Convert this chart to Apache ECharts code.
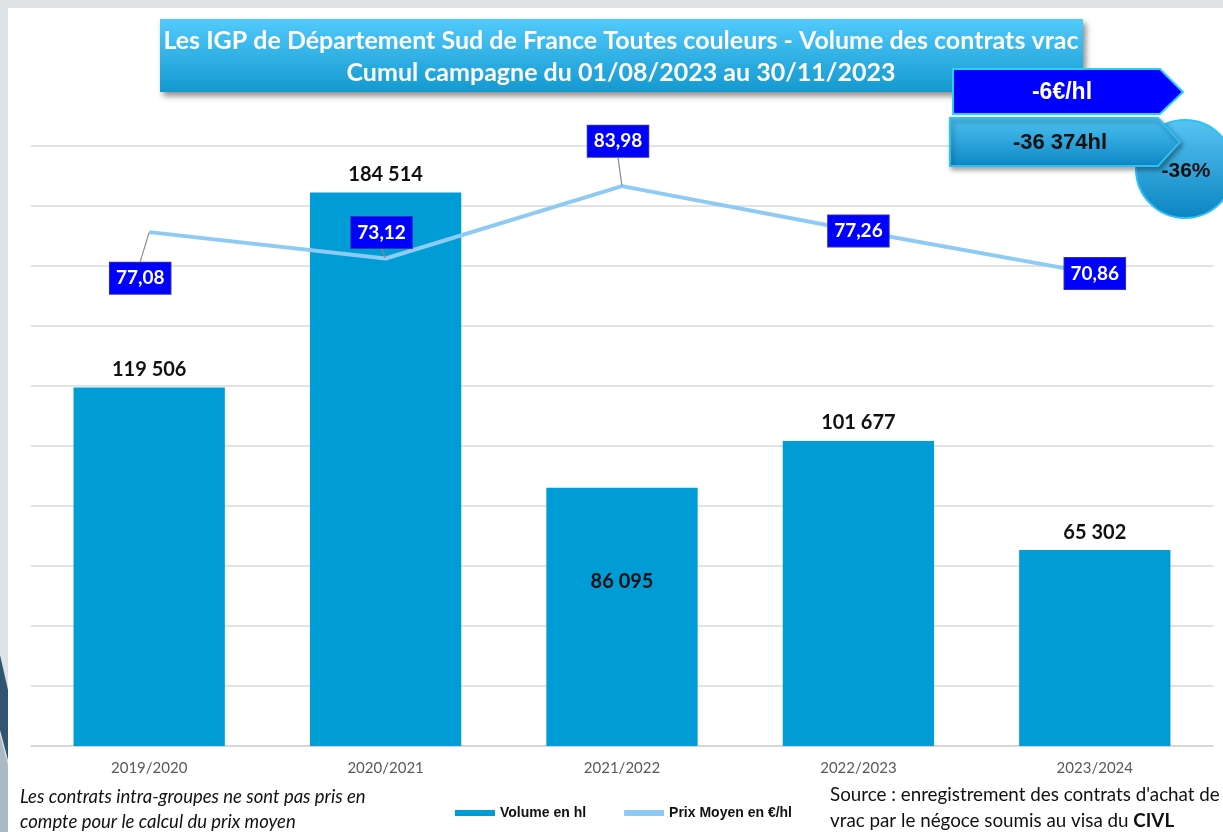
<!DOCTYPE html>
<html>
<head>
<meta charset="utf-8">
<script src="https://cdn.jsdelivr.net/npm/echarts@6/dist/echarts.min.js"></script>
<style>
  html, body { margin: 0; padding: 0; background: #dfe3e6; }
  #chart { width: 1223px; height: 832px; }
</style>
</head>
<body>
<div id="chart"></div>
<script>
// campagnes
const categories = ['2019/2020', '2020/2021', '2021/2022', '2022/2023', '2023/2024'];
// volume en hl
const volumes = [119506, 184514, 86095, 101677, 65302];
// prix moyen en €/hl
const prices = [77.08, 73.12, 83.98, 77.26, 70.86];
// décalage des étiquettes de prix (dx, dy)
const priceLabelShift = [[-9, 46], [-4, -26], [-4, -45], [0, 0], [0, 0]];

const fmtVol = v => String(v).replace(/\B(?=(\d{3})+(?!\d))/g, ' ');
const fmtPrice = v => v.toFixed(2).replace('.', ',');

const chart = echarts.init(document.getElementById('chart'));

const option = {
    backgroundColor: '#dfe3e6',
    animation: false,
    grid: { left: 31, right: 10, top: 146, bottom: 86 },
    xAxis: {
        type: 'category',
        data: categories,
        axisLine: { lineStyle: { color: '#d4d4d4', width: 1.5 } },
        axisTick: { show: false },
        axisLabel: { color: '#595959', fontSize: 15, fontFamily: 'Lato', margin: 15 }
    },
    yAxis: [
        {
            type: 'value', min: 0, max: 200000, interval: 20000,
            axisLabel: { show: false }, axisLine: { show: false }, axisTick: { show: false },
            splitLine: { lineStyle: { color: '#d9d9d9', width: 1.5 } }
        },
        {
            type: 'value', min: 0, max: 90,
            show: false, splitLine: { show: false }
        }
    ],
    legend: {
        left: 450, top: 801,
        itemGap: 38,
        textStyle: { color: '#111', fontSize: 14, fontWeight: 'bold', fontFamily: 'Liberation Sans' },
        data: [
            { name: 'Volume en hl', icon: 'rect', itemStyle: { color: '#009cd6' } },
            { name: 'Prix Moyen en €/hl', icon: 'rect' }
        ],
        itemWidth: 40, itemHeight: 6
    },
    series: [
        {
            name: 'Volume en hl',
            type: 'bar',
            barWidth: '64%',
            itemStyle: { color: '#009cd6' },
            z: 2,
            label: {
                show: true, position: 'top', distance: 8,
                color: '#111', fontSize: 20, fontWeight: 'bold', fontFamily: 'Lato',
                formatter: p => fmtVol(p.value)
            },
            data: volumes.map((v, i) => i === 2
                ? { value: v, label: { position: 'insideTop', offset: [0, 76] } }
                : v)
        },
        {
            name: 'Prix Moyen en €/hl',
            type: 'line',
            yAxisIndex: 1,
            symbol: 'circle', symbolSize: 1,
            itemStyle: { color: '#8ecbf4' },
            lineStyle: { color: '#8ecbf4', width: 4 },
            z: 5,
            label: {
                show: true, position: 'inside',
                color: '#fff', fontSize: 19, fontWeight: 'bold', fontFamily: 'Lato',
                backgroundColor: '#0000ff', borderColor: '#3333aa', borderWidth: 1,
                padding: [7, 6, 5, 6],
                formatter: p => fmtPrice(p.value)
            },
            labelLine: { show: true, lineStyle: { color: '#8c8c8c', width: 1.2 } },
            labelLayout: p => ({
                dx: priceLabelShift[p.dataIndex][0],
                dy: priceLabelShift[p.dataIndex][1]
            }),
            data: prices
        }
    ],
    graphic: [
        // panneau blanc
        { type: 'rect', z: -10, silent: true, shape: { x: 8, y: 8, width: 1215, height: 824 },
          style: { fill: '#ffffff' } },
        // décor à gauche
        { type: 'polygon', z: 100, shape: { points: [[0, 655], [8, 690], [8, 760], [0, 730]] },
          style: { fill: '#2f5570' } },
        { type: 'polygon', z: 100, shape: { points: [[0, 735], [8, 765], [8, 832], [0, 832]] },
          style: { fill: '#a9bac6' } },
        // titre
        {
            type: 'rect', z: 100,
            shape: { x: 160, y: 19, width: 923, height: 73 },
            style: {
                fill: new echarts.graphic.LinearGradient(0, 0, 0, 1, [
                    { offset: 0, color: '#52cafc' }, { offset: 1, color: '#1399d0' }
                ]),
                shadowBlur: 6, shadowOffsetX: 3, shadowOffsetY: 4, shadowColor: 'rgba(0,0,0,0.45)'
            }
        },
        {
            type: 'text', z: 101, x: 621, y: 41,
            style: {
                text: 'Les IGP de Département Sud de France Toutes couleurs - Volume des contrats vrac',
                fill: '#fff', font: 'bold 25px Lato', align: 'center', verticalAlign: 'middle'
            }
        },
        {
            type: 'text', z: 101, x: 621, y: 73,
            style: {
                text: 'Cumul campagne du 01/08/2023 au 30/11/2023',
                fill: '#fff', font: 'bold 25px Lato', align: 'center', verticalAlign: 'middle'
            }
        },
        // flèche prix
        {
            type: 'polygon', z: 100,
            shape: { points: [[953, 69], [1160, 69], [1183, 92], [1160, 114], [953, 114]] },
            style: { fill: '#0000ff', stroke: '#2ad0ff', lineWidth: 2 }
        },
        {
            type: 'text', z: 101, x: 1062, y: 93,
            style: { text: '-6€/hl', fill: '#fff', font: 'bold 23px "Liberation Sans"', align: 'center', verticalAlign: 'middle' }
        },
        // cercle pourcentage
        {
            type: 'circle', z: 100,
            shape: { cx: 1185, cy: 169, r: 49 },
            style: {
                fill: new echarts.graphic.LinearGradient(0, 0, 0, 1, [
                    { offset: 0, color: '#58c4f2' }, { offset: 1, color: '#0a84c2' }
                ]),
                stroke: '#2fc1f5', lineWidth: 2
            }
        },
        {
            type: 'text', z: 103, x: 1186, y: 171,
            style: { text: '-36%', fill: '#111', font: 'bold 21px "Liberation Sans"', align: 'center', verticalAlign: 'middle' }
        },
        // flèche volume
        {
            type: 'polygon', z: 102,
            shape: { points: [[950, 118], [1158, 118], [1180, 142], [1158, 166], [950, 166]] },
            style: {
                fill: new echarts.graphic.LinearGradient(0, 0, 0, 1, [
                    { offset: 0, color: '#4ec1f1' }, { offset: 1, color: '#0c87c5' }
                ]),
                stroke: '#2ebff5', lineWidth: 2,
                shadowBlur: 5, shadowOffsetX: 2, shadowOffsetY: 3, shadowColor: 'rgba(0,0,0,0.35)'
            }
        },
        {
            type: 'text', z: 103, x: 1060, y: 143,
            style: { text: '-36 374hl', fill: '#111', font: 'bold 22px "Liberation Sans"', align: 'center', verticalAlign: 'middle' }
        },
        // notes
        {
            type: 'text', z: 100, x: 20, y: 785,
            style: {
                text: 'Les contrats intra-groupes ne sont pas pris en\ncompte pour le calcul du prix moyen',
                fill: '#111', font: 'italic 18.5px Lato', lineHeight: 25
            }
        },
        {
            type: 'text', z: 100, x: 830, y: 782,
            style: {
                rich: {
                    n: { fill: '#111', font: '18.8px Lato', lineHeight: 26 },
                    b: { fill: '#111', font: 'bold 18.8px Lato', lineHeight: 26 }
                },
                text: '{n|Source : enregistrement des contrats d\'achat de}\n{n|vrac par le négoce soumis au visa du }{b|CIVL}'
            }
        }
    ]
};

chart.setOption(option);
</script>
</body>
</html>
